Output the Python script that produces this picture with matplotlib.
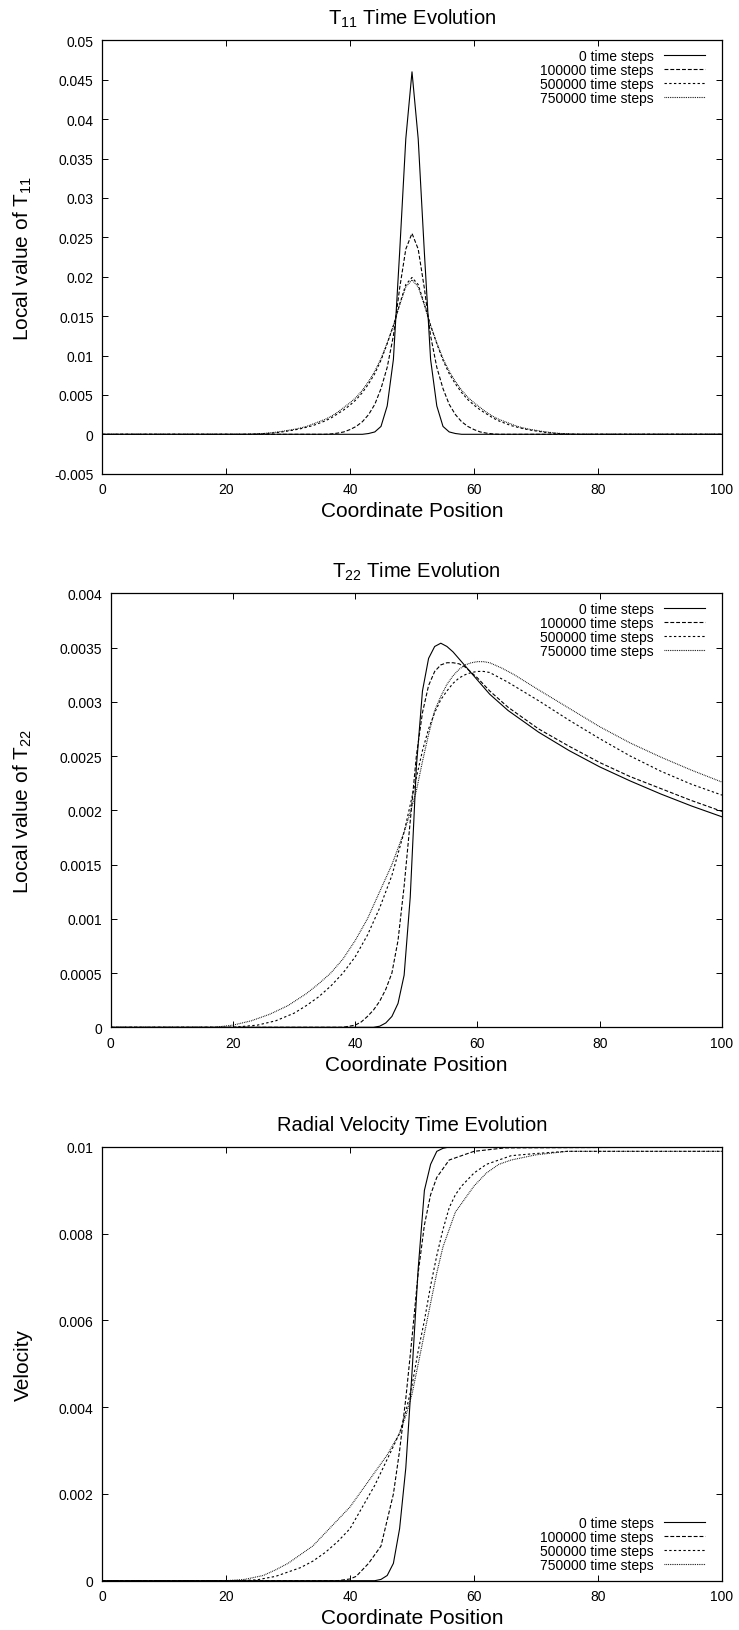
import matplotlib
matplotlib.use("Agg")
import matplotlib.pyplot as plt

plt.rcParams['font.family'] = ['Liberation Sans', 'DejaVu Sans']
plt.rcParams['mathtext.fontset'] = 'custom'
plt.rcParams['mathtext.rm'] = 'Liberation Sans'
plt.rcParams['mathtext.default'] = 'regular'
plt.rcParams['lines.scale_dashes'] = False

LABELS = ["0 time steps", "100000 time steps", "500000 time steps",
          "750000 time steps"]
X_TICKS = [0, 20, 40, 60, 80, 100]

# ---- T11 ----
t11_x = [
    [0, 42, 43, 44, 45, 46, 47, 48, 49, 50, 51, 52, 53, 54, 55, 56, 57, 58, 100],
    [0] + list(range(36, 65)) + [100],
    [0] + list(range(24, 77)) + [100],
    [0] + list(range(23, 78)) + [100],
]
t11_y = [
    [0, 0, 0.0001, 0.0003, 0.0010, 0.0036, 0.0095, 0.0230, 0.0375, 0.0460,
     0.0375, 0.0230, 0.0095, 0.0036, 0.0010, 0.0003, 0.0001, 0, 0],
    [0, 0, 0.00005, 0.00015, 0.0003, 0.0006, 0.0010, 0.0016, 0.0025, 0.0038,
     0.0058, 0.0085, 0.0125, 0.0185, 0.0235, 0.0255, 0.0235, 0.0185, 0.0125,
     0.0085, 0.0058, 0.0038, 0.0025, 0.0016, 0.0010, 0.0006, 0.0003, 0.00015,
     0.00005, 0, 0],
    [0, 0, 0.00004, 0.00008, 0.00013, 0.0002, 0.0003, 0.00042, 0.00055, 0.0007,
     0.0009, 0.0011, 0.0014, 0.0017, 0.0021, 0.0026, 0.0031, 0.0037, 0.0044,
     0.0053, 0.0064, 0.0077, 0.0094, 0.0115, 0.0138, 0.0165, 0.0190, 0.0199,
     0.0190, 0.0165, 0.0138, 0.0115, 0.0094, 0.0077, 0.0064, 0.0053, 0.0044,
     0.0037, 0.0031, 0.0026, 0.0021, 0.0017, 0.0014, 0.0011, 0.0009, 0.0007,
     0.00055, 0.00042, 0.0003, 0.0002, 0.00013, 0.00008, 0.00004, 0, 0],
    [0, 0, 0.00003, 0.00006, 0.0001, 0.00017, 0.00026, 0.00037, 0.0005,
     0.00063, 0.0008, 0.0010, 0.0013, 0.0016, 0.0019, 0.0023, 0.0028, 0.0034,
     0.0040, 0.0047, 0.0056, 0.0067, 0.0080, 0.0096, 0.0116, 0.0138, 0.0164,
     0.0187, 0.0196, 0.0187, 0.0164, 0.0138, 0.0116, 0.0096, 0.0080, 0.0067,
     0.0056, 0.0047, 0.0040, 0.0034, 0.0028, 0.0023, 0.0019, 0.0016, 0.0013,
     0.0010, 0.0008, 0.00063, 0.0005, 0.00037, 0.00026, 0.00017, 0.0001,
     0.00006, 0.00003, 0, 0],
]
t11_yticks = [-0.005, 0, 0.005, 0.01, 0.015, 0.02, 0.025, 0.03, 0.035, 0.04,
              0.045, 0.05]
t11_ylabels = ["-0.005", "0", "0.005", "0.01", "0.015", "0.02", "0.025",
               "0.03", "0.035", "0.04", "0.045", "0.05"]

# ---- T22 ----
t22_x = [
    [0, 43, 44, 45, 46, 47, 48, 49, 50, 51, 52, 53, 54, 55, 56, 58, 60, 62,
     65, 70, 75, 80, 85, 90, 95, 100],
    [0, 38, 40, 41, 42, 43, 44, 45, 46, 47, 48, 49, 50, 51, 52, 53, 54, 55,
     56, 57, 58, 60, 62, 65, 70, 75, 80, 85, 90, 95, 100],
    [0, 20, 24, 27, 30, 32, 34, 36, 38, 40, 42, 44, 45, 46, 47, 48, 49, 50,
     51, 52, 53, 54, 55, 56, 57, 58, 59, 60, 61, 62, 65, 70, 75, 80, 85, 90,
     95, 100],
    [0, 17, 20, 23, 26, 29, 32, 34, 36, 38, 40, 42, 44, 46, 47, 48, 49, 50,
     51, 52, 53, 54, 55, 56, 57, 58, 59, 60, 61, 62, 64, 66, 70, 75, 80, 85,
     90, 95, 100],
]
t22_y = [
    [0, 0, 0.00001, 0.00004, 0.0001, 0.00022, 0.00048, 0.0012, 0.0024, 0.0031,
     0.0034, 0.00351, 0.00354, 0.00351, 0.00346, 0.00333, 0.0032, 0.00307,
     0.00292, 0.00272, 0.00255, 0.0024, 0.00227, 0.00215, 0.00204, 0.00194],
    [0, 0, 0.00002, 0.00005, 0.0001, 0.00016, 0.00024, 0.00035, 0.0005, 0.0008,
     0.0013, 0.0019, 0.0025, 0.0029, 0.00315, 0.00328, 0.00334, 0.00336,
     0.00336, 0.00335, 0.00332, 0.00322, 0.0031, 0.00295, 0.00275, 0.00259,
     0.00244, 0.00231, 0.0022, 0.00209, 0.00199],
    [0, 0, 0.00002, 0.00006, 0.00013, 0.0002, 0.00028, 0.00038, 0.0005,
     0.00065, 0.00085, 0.0011, 0.00125, 0.0014, 0.0016, 0.0018, 0.00205,
     0.0023, 0.00255, 0.00275, 0.0029, 0.00302, 0.0031, 0.00317, 0.00322,
     0.00325, 0.00327, 0.00328, 0.00328, 0.00327, 0.00318, 0.00301, 0.00283,
     0.00266, 0.0025, 0.00236, 0.00224, 0.00214],
    [0, 0, 0.00002, 0.00006, 0.00012, 0.0002, 0.00031, 0.0004, 0.0005,
     0.00063, 0.0008, 0.001, 0.00125, 0.0015, 0.00165, 0.0018, 0.00198,
     0.00218, 0.00245, 0.0027, 0.00292, 0.00305, 0.00316, 0.00324, 0.0033,
     0.00334, 0.00336, 0.00337, 0.00337, 0.00336, 0.00331, 0.00325, 0.00311,
     0.00294, 0.00277, 0.00262, 0.00249, 0.00237, 0.00226],
]
t22_yticks = [0, 0.0005, 0.001, 0.0015, 0.002, 0.0025, 0.003, 0.0035, 0.004]
t22_ylabels = ["0", "0.0005", "0.001", "0.0015", "0.002", "0.0025", "0.003",
               "0.0035", "0.004"]

# ---- radial velocity ----
vel_x = [
    [0, 44, 45, 46, 47, 48, 49, 50, 51, 52, 53, 54, 55, 56, 58, 100],
    [0, 38, 40, 41, 42, 43, 44, 45, 46, 47, 48, 49, 50, 51, 52, 53, 54, 55,
     56, 58, 60, 65, 100],
    [0, 22, 25, 28, 30, 32, 34, 36, 38, 40, 42, 44, 46, 48, 49, 50, 51, 52,
     53, 54, 55, 56, 57, 58, 60, 62, 64, 66, 70, 75, 80, 100],
    [0, 20, 23, 26, 28, 30, 32, 34, 36, 38, 40, 42, 44, 46, 48, 49, 50, 51,
     52, 53, 54, 55, 56, 57, 58, 60, 62, 64, 66, 70, 75, 80, 100],
]
vel_y = [
    [0, 0, 0.00003, 0.00012, 0.0004, 0.0012, 0.0026, 0.0048, 0.0072, 0.0090,
     0.0096, 0.0099, 0.00997, 0.01, 0.01, 0.01],
    [0, 0, 0.00004, 0.0001, 0.00025, 0.0004, 0.0006, 0.0008, 0.0014, 0.002,
     0.003, 0.0042, 0.0056, 0.0071, 0.0082, 0.0089, 0.0093, 0.0095, 0.0097,
     0.0098, 0.0099, 0.00998, 0.01],
    [0, 0, 0.00002, 0.0001, 0.0002, 0.0003, 0.00045, 0.00065, 0.0009, 0.0012,
     0.0017, 0.0022, 0.0028, 0.0034, 0.0039, 0.0045, 0.0053, 0.006, 0.0068,
     0.0075, 0.0081, 0.0086, 0.0089, 0.0091, 0.0094, 0.0096, 0.0097, 0.0098,
     0.00985, 0.0099, 0.0099, 0.0099],
    [0, 0, 0.00003, 0.00012, 0.00025, 0.0004, 0.0006, 0.0008, 0.0011, 0.0014,
     0.0017, 0.0021, 0.0025, 0.0029, 0.0034, 0.0038, 0.0043, 0.005, 0.0057,
     0.0064, 0.0071, 0.0077, 0.0081, 0.0085, 0.0087, 0.0091, 0.0094, 0.0096,
     0.0097, 0.00982, 0.0099, 0.0099, 0.0099],
]
vel_yticks = [0, 0.002, 0.004, 0.006, 0.008, 0.01]
vel_ylabels = ["0", "0.002", "0.004", "0.006", "0.008", "0.01"]

DASHES = [None, (2.8, 1.4), (1.7, 1.7), (0.6, 0.7)]

W, H = 739, 1631
fig = plt.figure(figsize=(W / 100, H / 100), dpi=100)


def panel(box, xs, ys, yt, ytl, ylim, title, ylabel, legloc):
    l, t, r, b = box
    ax = fig.add_axes([l / W, 1 - b / H, (r - l) / W, (b - t) / H])
    for k in range(4):
        ln, = ax.plot(xs[k], ys[k], color="k", lw=0.8, label=LABELS[k])
        if DASHES[k]:
            ln.set_dashes(DASHES[k])
    ax.set_xlim(0, 100)
    ax.set_ylim(*ylim)
    ax.set_xticks(X_TICKS, [str(v) for v in X_TICKS])
    ax.set_yticks(yt, ytl)
    ax.tick_params(direction="in", top=True, right=True, length=4.3,
                   width=0.7, labelsize=10, pad=6)
    for s in ax.spines.values():
        s.set_linewidth(0.9)
    ax.text(0.5, 1 + 16.5 / (b - t), title, transform=ax.transAxes,
            ha="center", va="baseline", fontsize=14.5)
    ax.set_xlabel("Coordinate Position", fontsize=15, va="center")
    ax.xaxis.set_label_coords(0.5, -37 / (b - t))
    ax.set_ylabel(ylabel, fontsize=15, va="center")
    ax.yaxis.set_label_coords((23 - l) / (r - l), 0.5)
    if legloc == "upper right":
        anchor = (1 - 17 / (r - l), 1 - 9 / (b - t))
    else:
        anchor = (1 - 17 / (r - l), 8.5 / (b - t))
    ax.legend(loc=legloc, bbox_to_anchor=anchor, frameon=False, fontsize=10,
              markerfirst=False, handlelength=2.95, handletextpad=0.75,
              labelspacing=0.0, borderpad=0, borderaxespad=0)
    return ax


panel((102, 41.3, 722, 474.7), t11_x, t11_y, t11_yticks, t11_ylabels,
      (-0.005, 0.05), "T$_{11}$ Time Evolution", "Local value of T$_{11}$",
      "upper right")
panel((110.7, 594.3, 722, 1028.3), t22_x, t22_y, t22_yticks, t22_ylabels,
      (0, 0.004), "T$_{22}$ Time Evolution", "Local value of T$_{22}$",
      "upper right")
panel((102, 1148, 722, 1581.7), vel_x, vel_y, vel_yticks, vel_ylabels,
      (0, 0.01), "Radial Velocity Time Evolution", "Velocity",
      "lower right")

fig.savefig("out.png", dpi=100)
